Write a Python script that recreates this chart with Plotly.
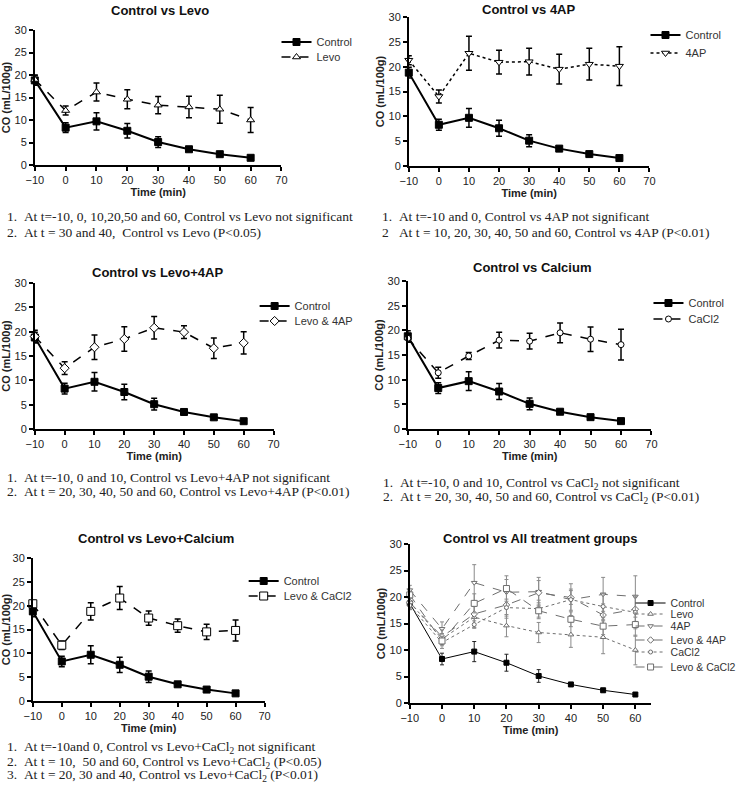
import plotly.graph_objects as go

# ---------------- data ----------------
time = [-10, 0, 10, 20, 30, 40, 50, 60]
control = [18.8, 8.3, 9.7, 7.6, 5.1, 3.5, 2.4, 1.6]
control_err = [1.1, 1.1, 1.9, 1.6, 1.2, 0.3, 0.3, 0.2]
levo = [19.0, 12.1, 16.2, 14.6, 13.3, 12.9, 12.4, 10.0]
levo_err = [1.0, 1.0, 2.0, 2.1, 1.9, 2.4, 3.1, 2.8]
ap4 = [21.3, 14.0, 22.7, 20.9, 21.0, 19.5, 20.5, 20.1]
ap4_err = [0.9, 1.3, 3.4, 2.4, 2.7, 3.0, 3.2, 3.9]
levo_ap4 = [19.0, 12.5, 16.8, 18.5, 20.8, 19.9, 16.6, 17.7]
levo_ap4_err = [1.3, 1.3, 2.5, 2.5, 2.3, 1.3, 2.1, 2.3]
cacl2 = [18.4, 11.4, 14.8, 18.0, 17.8, 19.5, 18.2, 17.1]
cacl2_err = [0.8, 1.1, 0.7, 1.6, 1.6, 2.0, 2.5, 3.1]
levo_cacl2 = [20.4, 11.7, 18.8, 21.6, 17.4, 15.8, 14.5, 14.8]
levo_cacl2_err = [0.7, 0.9, 1.8, 2.4, 1.5, 1.4, 1.6, 2.2]

panel_titles = ["Control vs Levo", "Control vs 4AP", "Control vs Levo+4AP",
                "Control vs Calcium", "Control vs Levo+Calcium",
                "Control vs All treatment groups"]
x_title = "Time (min)"
y_title = "CO (mL/100g)"
y_ticks = [0, 5, 10, 15, 20, 25, 30]

footnotes = [
    ["1.\u00a0\u00a0At t=-10, 0, 10,20,50 and 60, Control vs Levo not significant",
     "2.\u00a0\u00a0At t = 30 and 40,\u00a0 Control vs Levo (P<0.05)"],
    ["1.\u00a0\u00a0At t=-10 and 0, Control vs 4AP not significant",
     "2\u00a0\u00a0\u00a0At t = 10, 20, 30, 40, 50 and 60, Control vs 4AP (P<0.01)"],
    ["1.\u00a0\u00a0At t=-10, 0 and 10, Control vs Levo+4AP not significant",
     "2.\u00a0\u00a0At t = 20, 30, 40, 50 and 60, Control vs Levo+4AP (P<0.01)"],
    ["1.\u00a0\u00a0At t=-10, 0 and 10, Control vs CaCl<sub>2</sub> not significant",
     "2.\u00a0\u00a0At t = 20, 30, 40, 50 and 60, Control vs CaCl<sub>2</sub> (P<0.01)"],
    ["1.\u00a0\u00a0At t=-10and 0, Control vs Levo+CaCl<sub>2</sub> not significant",
     "2.\u00a0\u00a0At t = 10,\u00a0 50 and 60, Control vs Levo+CaCl<sub>2</sub> (P<0.05)",
     "3.\u00a0\u00a0At t = 20, 30 and 40, Control vs Levo+CaCl<sub>2</sub> (P<0.01)"],
    [],
]

# ---------------- layout geometry (screen pixels) ----------------
W, H = 741, 787


def px(x):
    return x / W


def py(y):
    return 1 - y / H


panels = [
    dict(x0=35, x1=283, yb=165, yt=30, xmax=70, title=(161, 10),
         foot=(5, [217, 233])),
    dict(x0=411, x1=653, yb=166, yt=17, xmax=70, title=(532, 9),
         foot=(382, [217, 233])),
    dict(x0=35, x1=275, yb=429, yt=283, xmax=70, title=(158, 272),
         foot=(5, [478, 492])),
    dict(x0=410, x1=655, yb=429, yt=281, xmax=70, title=(535, 267),
         foot=(383, [483, 497])),
    dict(x0=33, x1=266, yb=701, yt=558, xmax=70, title=(157, 538),
         foot=(5, [747, 762, 775])),
    dict(x0=412, x1=655, yb=703, yt=544, xmax=65, title=(543, 538),
         foot=(0, [])),
]

S_CONTROL = dict(name="Control", y=control, e=control_err, dash="solid",
                 symbol="square", fill="black", size=7)
S_LEVO = dict(name="Levo", y=levo, e=levo_err, dash="dash",
              symbol="triangle-up", fill="white", size=7)
S_4AP = dict(name="4AP", y=ap4, e=ap4_err, dash="dot",
             symbol="triangle-down", fill="white", size=7)
S_LEVO4AP = dict(name="Levo & 4AP", y=levo_ap4, e=levo_ap4_err, dash="dash",
                 symbol="diamond", fill="white", size=7)
S_CACL2 = dict(name="CaCl2", y=cacl2, e=cacl2_err, dash="dash",
               symbol="circle", fill="white", size=6)
S_LEVOCACL2 = dict(name="Levo & CaCl2", y=levo_cacl2, e=levo_cacl2_err,
                   dash="dash", symbol="square", fill="white", size=8)

panel_series = [
    [S_CONTROL, S_LEVO],
    [S_CONTROL, S_4AP],
    [S_CONTROL, S_LEVO4AP],
    [S_CONTROL, S_CACL2],
    [S_CONTROL, S_LEVOCACL2],
    [S_CONTROL, S_LEVO, S_4AP, S_LEVO4AP, S_CACL2, S_LEVOCACL2],
]
panel6_dash = {"Control": "solid", "Levo": "dot", "4AP": "dash",
               "Levo & 4AP": "dash", "CaCl2": "dot", "Levo & CaCl2": "dash"}

# legend entry positions: (text start x, [entry y's], font size)
legend_pos = [
    (318, [42, 57], 11),
    (689, [35, 53], 11),
    (296, [306, 321], 11),
    (692, [303, 319], 11),
    (285, [581, 596], 11),
    (674, [603, 614, 626, 640, 652, 667], 10.5),
]
LEG_TEXT_OFFSET = 40

fig = go.Figure()
layout_extra = {}
annotations = []
legend_count = 0

for i, (p, series) in enumerate(zip(panels, panel_series)):
    k = "" if i == 0 else str(i + 1)
    xa, ya = "x" + k, "y" + k
    all_panel = (i == 5)
    for j, s in enumerate(series):
        legend_count += 1
        lid = "legend" if legend_count == 1 else "legend%d" % legend_count
        is_ctrl = s["name"] == "Control"
        if all_panel:
            col = "black" if is_ctrl else "#6e6e6e"
            ecol = "#222222" if is_ctrl else "#8a8a8a"
            lw = 1.0
            msize = s["size"] - 2
            dash = panel6_dash[s["name"]]
            ethick, ewidth = 1, 2
        else:
            col = "black"
            ecol = "black"
            lw = 2.0 if is_ctrl else 1.5
            msize = s["size"]
            dash = s["dash"]
            ethick, ewidth = 1.5, 3
        fig.add_trace(go.Scatter(
            x=time, y=s["y"], name=s["name"], xaxis=xa, yaxis=ya,
            mode="lines+markers",
            line=dict(color=col, width=lw, dash=dash),
            marker=dict(symbol=s["symbol"], size=msize,
                        color=col if s["fill"] == "black" else "white",
                        line=dict(color=col, width=1)),
            error_y=dict(type="data", array=s["e"], visible=True,
                         color=ecol, thickness=ethick, width=ewidth),
            cliponaxis=False, legend=lid, showlegend=True,
        ))
        lx, lys, lfs = legend_pos[i]
        layout_extra[lid] = dict(
            x=px(lx - LEG_TEXT_OFFSET), y=py(lys[j]),
            xanchor="left", yanchor="middle",
            bgcolor="rgba(0,0,0,0)", borderwidth=0,
            font=dict(family="Liberation Sans", size=lfs, color="#333333"),
            itemwidth=30, tracegroupgap=0,
        )

    layout_extra["xaxis" + k] = dict(
        domain=[px(p["x0"]), px(p["x1"])], anchor=ya,
        range=[-10, p["xmax"]], tickmode="array",
        tickvals=[t for t in range(-10, p["xmax"] + 1, 10)],
        showline=True, linecolor="black", linewidth=1.5,
        ticks="outside", ticklen=4, tickwidth=1.5, tickcolor="black",
        showgrid=False, zeroline=False,
        tickfont=dict(family="Liberation Sans", size=11, color="#222222"),
        title=dict(text=x_title, standoff=3,
                   font=dict(family="Liberation Sans", size=11,
                             color="#222222", weight="bold")),
        automargin=False,
    )
    layout_extra["yaxis" + k] = dict(
        domain=[py(p["yb"]), py(p["yt"])], anchor=xa,
        range=[0, 30], tickmode="array", tickvals=y_ticks,
        showline=True, linecolor="black", linewidth=1.5,
        ticks="outside", ticklen=4, tickwidth=1.5, tickcolor="black",
        showgrid=False, zeroline=False,
        tickfont=dict(family="Liberation Sans", size=11, color="#222222"),
        title=dict(text=y_title, standoff=2,
                   font=dict(family="Liberation Sans", size=11,
                             color="#222222", weight="bold")),
        automargin=False,
    )
    tx, ty = p["title"]
    annotations.append(dict(
        text="<b>%s</b>" % panel_titles[i], x=px(tx), y=py(ty),
        xref="paper", yref="paper", xanchor="center", yanchor="middle",
        showarrow=False,
        font=dict(family="Liberation Sans", size=13, color="#111111"),
    ))
    fx, fys = p["foot"]
    for line_text, fy in zip(footnotes[i], fys):
        annotations.append(dict(
            text=line_text, x=px(fx), y=py(fy - 10), xref="paper",
            yref="paper", xanchor="left", yanchor="top", showarrow=False,
            font=dict(family="Liberation Serif", size=13.5, color="#222222"),
        ))

fig.update_layout(
    width=W, height=H, margin=dict(l=0, r=0, t=0, b=0),
    paper_bgcolor="white", plot_bgcolor="white",
    annotations=annotations, showlegend=True,
    **layout_extra,
)

# remove the default page margin so the figure sits at the window origin
fig.write_html(
    "out.html",
    config={"displayModeBar": False},
    post_script="document.body.style.margin='0';"
                "document.body.style.overflow='hidden';",
)
